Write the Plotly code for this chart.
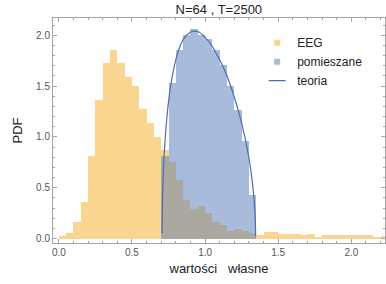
import plotly.graph_objects as go

BIN_W = 0.05

# EEG histogram (PDF per bin, bins start at 0.00, width 0.05)
eeg_pdf = [0.029, 0.056, 0.16, 0.357, 0.808, 1.36, 1.73, 1.86, 1.73, 1.59,
           1.50, 1.276, 1.136, 1.00, 0.874, 0.756, 0.579, 0.383, 0.295, 0.324,
           0.25, 0.16, 0.131, 0.072, 0.098, 0.079, 0.056, 0.039, 0.062, 0.062,
           0.046, 0.046, 0.044, 0.036, 0.044, 0.018, 0.036, 0.036, 0.030, 0.036,
           0.039, 0.036, 0.036, 0.018, 0.026]
eeg_start = 0.0

# shuffled ("pomieszane") histogram, bins start at 0.70
shuf_pdf = [0.815, 1.53, 1.86, 2.00, 2.06, 2.00, 1.96, 1.86, 1.71, 1.50,
            1.265, 0.955, 0.43]
shuf_start = 0.70

# theory curve
theory_x = [0.706, 0.71, 0.72, 0.74, 0.76, 0.78, 0.80, 0.83, 0.86, 0.90,
            0.93, 0.96, 1.00, 1.04, 1.08, 1.12, 1.16, 1.20, 1.24, 1.27,
            1.30, 1.32, 1.335, 1.343, 1.3456]
theory_y = [0.05, 0.46, 0.82, 1.21, 1.46, 1.63, 1.76, 1.90, 1.98, 2.03,
            2.04, 2.03, 1.98, 1.91, 1.81, 1.70, 1.56, 1.39, 1.19, 1.01,
            0.79, 0.59, 0.38, 0.19, 0.02]

title_text = "N=64 , T=2500"
x_title = "wartości   własne"
y_title = "PDF"
legend_names = ["EEG", "pomieszane", "teoria"]

ORANGE = "#F9D58F"
BLUE = "#A8BBDA"
GRAY = "#ABA99F"
LINE = "#4A6EB0"

eeg_x = [round(eeg_start + (i + 0.5) * BIN_W, 4) for i in range(len(eeg_pdf))]
shuf_x = [round(shuf_start + (i + 0.5) * BIN_W, 4) for i in range(len(shuf_pdf))]

# overlap (both histograms present)
shuf_map = {round(x, 3): v for x, v in zip(shuf_x, shuf_pdf)}
ov_x, ov_y = [], []
for x, v in zip(eeg_x, eeg_pdf):
    k = round(x, 3)
    if k in shuf_map:
        ov_x.append(x)
        ov_y.append(min(v, shuf_map[k]))

fig = go.Figure()
fig.add_trace(go.Bar(x=eeg_x, y=eeg_pdf, width=BIN_W, marker=dict(color=ORANGE, line=dict(width=0)),
                     showlegend=False, hoverinfo="skip"))
fig.add_trace(go.Bar(x=shuf_x, y=shuf_pdf, width=BIN_W, marker=dict(color=BLUE, line=dict(width=0)),
                     showlegend=False, hoverinfo="skip"))
fig.add_trace(go.Bar(x=ov_x, y=ov_y, width=BIN_W, marker=dict(color=GRAY, line=dict(width=0)),
                     showlegend=False, hoverinfo="skip"))
fig.add_trace(go.Scatter(x=theory_x, y=theory_y, mode="lines", line=dict(color=LINE, width=1.2),
                         showlegend=False, line_shape="spline", hoverinfo="skip"))

# legend entries
fig.add_trace(go.Scatter(x=[None], y=[None], mode="markers", name=legend_names[0],
                         marker=dict(symbol="square", size=6, color=ORANGE), legendgroup="a"))
fig.add_trace(go.Scatter(x=[None], y=[None], mode="markers", name=legend_names[1],
                         marker=dict(symbol="square", size=6, color=BLUE), legendgroup="a"))
fig.add_trace(go.Scatter(x=[None], y=[None], mode="markers", name=legend_names[2],
                         marker=dict(symbol="line-ew", size=12, line=dict(color=LINE, width=1.2)),
                         legendgroup="b"))

axis_common = dict(
    automargin=False,
    showgrid=False, zeroline=False, showline=True, linecolor="#A6A6A6", linewidth=1,
    mirror="ticks", ticks="inside", ticklen=4, tickcolor="#A6A6A6", tickwidth=1,
    tickfont=dict(family="Liberation Sans, Arial", size=10, color="#555555"),
    minor=dict(ticks="inside", ticklen=2, tickcolor="#A6A6A6", dtick=0.1),
)

fig.update_layout(
    width=386, height=284,
    margin=dict(l=53, r=1, t=18, b=41),
    paper_bgcolor="white", plot_bgcolor="white",
    barmode="overlay", bargap=0,
    font=dict(family="Liberation Sans, Arial", color="#222222"),
    title=dict(text=title_text, x=0.567, xanchor="center", y=0.965, yanchor="middle",
               font=dict(size=13, color="#222222")),
    xaxis=dict(range=[-0.04, 2.23], dtick=0.5, tickformat=".1f",
               title=dict(text=x_title, font=dict(size=13, color="#222222"), standoff=6),
               **axis_common),
    yaxis=dict(range=[-0.044, 2.17], dtick=0.5, tickformat=".1f",
               title=dict(text=y_title, font=dict(size=13, color="#222222"), standoff=10),
               **axis_common),
    legend=dict(x=0.615, y=0.955, xanchor="left", yanchor="top", bgcolor="rgba(0,0,0,0)",
                font=dict(size=12, color="#222222"), tracegroupgap=0, itemwidth=30,
                traceorder="grouped"),
    hovermode=False,
)

fig.write_html("out.html", config={"displayModeBar": False, "staticPlot": True},
               post_script="document.body.style.margin='0px';document.body.style.overflow='hidden';")
